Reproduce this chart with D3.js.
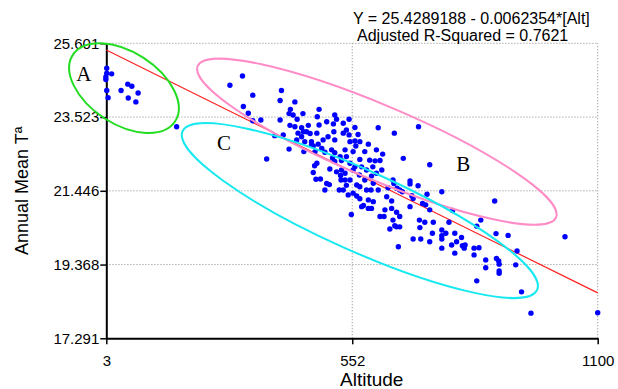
<!DOCTYPE html>
<html>
<head>
<meta charset="utf-8">
<script src="https://cdn.jsdelivr.net/npm/d3@7"></script>
<style>
  body { margin: 0; background: #fff; }
  svg { display: block; font-family: "Liberation Sans", Arial, sans-serif; }
</style>
</head>
<body>
<div id="chart"></div>
<script>
// Altitude (m) of each station
const altitude = [
  4, 4, 15, 2, 2, 4, 7, 36, 51, 60, 74, 52, 69, 160,
  279, 307, 330, 309, 320, 330, 348, 379, 361, 394, 391, 424, 414, 411, 420, 429,
  442, 413, 424, 439, 454, 391, 398, 411, 431, 443, 450, 458, 428, 439, 446, 461,
  465, 444, 478, 474, 478, 495, 513, 517, 532, 545, 510, 473, 487, 484, 498, 511,
  513, 532, 539, 558, 565, 547, 558, 569, 588, 473, 465, 471, 495, 491, 506, 513,
  525, 536, 539, 513, 528, 517, 536, 547, 554, 569, 573, 580, 591, 606, 614, 620,
  584, 598, 606, 547, 562, 539, 536, 543, 532, 569, 580, 584, 599, 610, 577, 588,
  599, 569, 595, 573, 614, 623, 550, 610, 646, 700, 640, 629, 640, 651, 643, 636,
  651, 655, 666, 725, 618, 643, 645, 632, 652, 658, 664, 681, 681, 699, 685, 688,
  709, 716, 719, 725, 752, 625, 658, 647, 658, 681, 702, 703, 714, 733, 752, 731,
  752, 761, 768, 781, 785, 688, 705, 725, 752, 752, 774, 796, 798, 781, 870, 839,
  830, 804, 802, 824, 835, 824, 873, 900, 920, 850, 850, 874, 879, 880, 880, 880,
  917, 830, 930, 951, 1100, 1027, 476, 461, 545, 469, 491, 508, 528, 468, 554, 502,
  481, 501, 526, 527, 523, 554, 560, 603, 558, 568, 595, 594, 562, 588, 776
];
// Annual mean temperature (°C) of each station
const meanTemp = [
  24.90, 24.76, 24.74, 24.65, 24.58, 24.27, 24.07, 24.27, 24.45, 24.39, 24.20, 24.06, 23.95, 23.25,
  24.42, 24.68, 24.14, 23.82, 23.63, 23.42, 23.44, 23.00, 22.34, 24.27, 23.99, 23.95, 23.74, 23.62, 23.58, 23.46,
  23.62, 23.29, 23.25, 23.22, 23.29, 23.44, 23.02, 22.62, 23.07, 23.11, 23.11, 23.06, 22.88, 22.97, 22.83, 22.83,
  22.71, 22.55, 23.74, 23.53, 23.30, 23.39, 23.58, 23.46, 23.35, 23.46, 23.33, 23.07, 22.88, 22.64, 22.97, 23.11,
  22.88, 23.07, 23.16, 23.23, 23.03, 22.83, 22.85, 22.83, 22.76, 22.22, 21.96, 21.77, 21.65, 21.47, 22.60, 22.52,
  22.41, 22.60, 22.41, 22.27, 22.03, 21.98, 21.94, 22.22, 22.03, 22.33, 22.12, 22.55, 22.31, 22.60, 22.30, 22.48,
  22.03, 22.12, 21.94, 21.75, 21.61, 21.60, 21.75, 21.33, 21.47, 21.56, 21.75, 21.47, 21.66, 21.47, 21.03, 21.19,
  21.14, 21.22, 20.95, 21.00, 20.72, 20.72, 20.78, 23.22, 23.07, 23.25, 21.16, 21.28, 20.95, 20.84, 20.62, 20.37,
  20.43, 19.87, 22.36, 22.18, 22.03, 21.75, 21.65, 21.53, 21.52, 21.47, 21.42, 21.72, 21.64, 21.59, 21.31, 21.23,
  21.09, 21.05, 21.35, 20.91, 21.42, 20.91, 20.72, 20.46, 20.43, 21.00, 20.62, 20.41, 20.56, 20.56, 20.34, 20.25,
  20.18, 20.25, 20.56, 20.25, 20.01, 20.09, 20.09, 20.01, 20.09, 19.83, 19.92, 20.13, 19.90, 19.69, 21.16, 20.62,
  20.45, 19.92, 19.83, 19.83, 19.84, 19.64, 20.24, 20.19, 19.75, 19.50, 19.28, 19.54, 19.47, 19.38, 19.19, 19.12,
  19.36, 18.91, 18.60, 18.00, 18.01, 20.15, 22.76, 22.74, 23.02, 22.55, 22.53, 22.37, 22.30, 22.15, 22.55, 22.06,
  21.78, 21.62, 21.88, 21.75, 21.47, 21.38, 22.71, 22.29, 22.12, 21.89, 21.86, 21.47, 21.30, 20.95, 20.89
];

const xTicks = [3, 552, 1100];
const yTicks = [17.291, 19.368, 21.446, 23.523, 25.601];

// fitted line: Y = 25.4289188 - 0.0062354*[Alt]
const intercept = 25.4289188;
const slope = -0.0062354;

// group ellipses: centre in data units
const groupNames = ['A', 'B', 'C'];
const groupAlt = [42.5, 607, 569];
const groupTemp = [24.34, 22.83, 20.89];
const groupLabelAlt = [-47, 800, 266];
const groupLabelTemp = [24.55, 21.99, 22.6];

const width = 618;
const height = 389;
const margin = { top: 43.3, right: 20.3, bottom: 50.7, left: 106.3 };

const svg = d3
  .select('#chart')
  .append('svg')
  .attr('width', width)
  .attr('height', height);

const x = d3
  .scaleLinear()
  .domain([3, 1100])
  .range([margin.left, width - margin.right]);

const y = d3
  .scaleLinear()
  .domain([17.291, 25.601])
  .range([height - margin.bottom, margin.top]);

// Grid lines (dotted)
const grid = svg.append('g').attr('stroke', '#9a9a9a').attr('stroke-dasharray', '1.2,1.8');
grid
  .selectAll('line.h')
  .data(yTicks.slice(1))
  .enter()
  .append('line')
  .attr('x1', x(3))
  .attr('x2', x(1100))
  .attr('y1', d => y(d))
  .attr('y2', d => y(d));
grid
  .selectAll('line.v')
  .data(xTicks.slice(1))
  .enter()
  .append('line')
  .attr('x1', d => x(d))
  .attr('x2', d => x(d))
  .attr('y1', y(17.291))
  .attr('y2', y(25.601));

// Axes
const xAxis = svg
  .append('g')
  .attr('transform', `translate(0,${y(17.291)})`)
  .call(d3.axisBottom(x).tickValues(xTicks).tickFormat(d3.format('d')).tickSize(6).tickSizeOuter(0));
const yAxis = svg
  .append('g')
  .attr('transform', `translate(${x(3)},0)`)
  .call(d3.axisLeft(y).tickValues(yTicks).tickFormat(d3.format('.3f')).tickSize(6).tickSizeOuter(0));

[xAxis, yAxis].forEach(ax => {
  ax.select('.domain').attr('stroke', '#000').attr('stroke-width', 2);
  ax.selectAll('.tick line').attr('stroke', '#000').attr('stroke-width', 1.5);
  ax.selectAll('.tick text')
    .attr('fill', '#000')
    .attr('font-size', 15)
    .attr('font-family', '"Liberation Sans", Arial, sans-serif');
});
xAxis.selectAll('.tick text').attr('dy', '1.25em');
yAxis.selectAll('.tick text').attr('x', -7);

// Axis titles
svg
  .append('text')
  .attr('x', 340)
  .attr('y', 386)
  .attr('font-size', 19)
  .text('Altitude');
svg
  .append('text')
  .attr('transform', `translate(28,${y(21.446)}) rotate(-90)`)
  .attr('text-anchor', 'middle')
  .attr('font-size', 18)
  .text('Annual Mean Tª');

// Equation header
svg
  .append('text')
  .attr('x', 353)
  .attr('y', 24)
  .attr('font-size', 16)
  .text('Y = 25.4289188 - 0.0062354*[Alt]');
svg
  .append('text')
  .attr('x', 357)
  .attr('y', 41)
  .attr('font-size', 16)
  .text('Adjusted R-Squared = 0.7621');

// Regression line
const fitLine = d3.line().x(d => x(d)).y(d => y(intercept + slope * d));
svg
  .append('path')
  .attr('d', fitLine([3, 1100]))
  .attr('fill', 'none')
  .attr('stroke', '#ff2020')
  .attr('stroke-width', 1.2);

// Points
const points = altitude.map((a, i) => ({ alt: a, temp: meanTemp[i] }));
svg
  .append('g')
  .selectAll('circle')
  .data(points)
  .enter()
  .append('circle')
  .attr('cx', d => x(d.alt))
  .attr('cy', d => y(d.temp))
  .attr('r', 2.7)
  .attr('fill', '#0000ff');

// Group ellipses (semi-axes in px, tilt in degrees)
const ellipseRx = [61, 194.5, 194.2];
const ellipseRy = [36, 37, 40.3];
const ellipseTilt = [33, 22.9, 24.1];
const ellipseColor = ['#22dd22', '#ff8cc6', '#18e8f0'];
svg
  .append('g')
  .selectAll('ellipse')
  .data(groupNames)
  .enter()
  .append('ellipse')
  .attr('transform', (d, i) => `translate(${x(groupAlt[i])},${y(groupTemp[i])}) rotate(${ellipseTilt[i]})`)
  .attr('rx', (d, i) => ellipseRx[i])
  .attr('ry', (d, i) => ellipseRy[i])
  .attr('fill', 'none')
  .attr('stroke', (d, i) => ellipseColor[i])
  .attr('stroke-width', 2);

svg
  .append('g')
  .selectAll('text')
  .data(groupNames)
  .enter()
  .append('text')
  .attr('x', (d, i) => x(groupLabelAlt[i]))
  .attr('y', (d, i) => y(groupLabelTemp[i]))
  .attr('text-anchor', 'middle')
  .attr('font-family', '"Liberation Serif", "Times New Roman", serif')
  .attr('font-size', 21)
  .text(d => d);
</script>
</body>
</html>
